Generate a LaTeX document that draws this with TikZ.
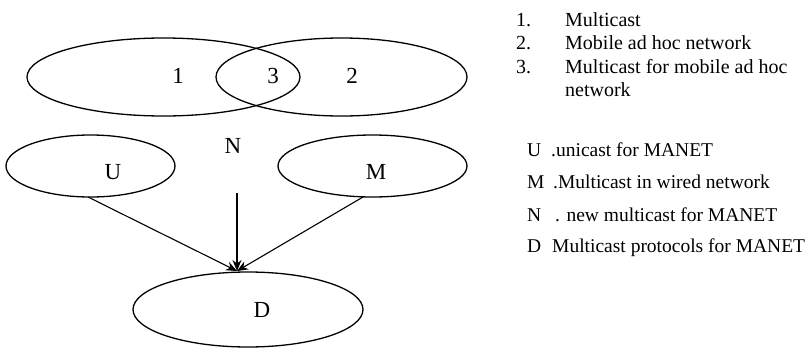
\documentclass[tikz,border=0pt]{standalone}
\usepackage{fontspec}
\setmainfont{Liberation Serif}
\usetikzlibrary{shapes.geometric,arrows.meta}
\begin{document}
\begin{tikzpicture}[x=1pt,y=-1pt,
  oval/.style={draw,ellipse,line width=1.3pt,inner sep=0pt,outer sep=0pt},
  lbl/.style={font=\fontsize{23}{23}\selectfont,inner sep=0pt},
  item/.style={font=\fontsize{20}{20}\selectfont,anchor=base west,inner sep=0pt},
  key/.style={font=\fontsize{19.5}{19.5}\selectfont,anchor=base west,inner sep=0pt},
  arr/.style={line width=1.1pt,-{Stealth[length=11pt,width=9pt]}}]
\useasboundingbox (0,0) rectangle (811,348);
% Venn ellipses
\node[oval,minimum width=273pt,minimum height=78pt] (e1) at (163.5,77) {};
\node[oval,minimum width=251pt,minimum height=78pt] (e2) at (341.5,77) {};
\node[lbl] (l1) at (178,76) {1};
\node[lbl] (l3) at (273,76) {3};
\node[lbl] (l2) at (352,76) {2};
% U, M, D
\node[oval,minimum width=169pt,minimum height=62pt] (u) at (90.5,166) {};
\node[oval,minimum width=189pt,minimum height=62pt] (m) at (372.5,166) {};
\node[oval,minimum width=230pt,minimum height=75pt] (d) at (248,309.5) {};
\node[lbl] (lu) at (113,172) {U};
\node[lbl] (lm) at (376,172) {M};
\node[lbl] (ln) at (233,146) {N};
\node[lbl] (ld) at (262,310) {D};
\coordinate (nstart) at (237,193);
\coordinate (tip) at (237,271);
\coordinate (ustart) at (88,197);
\coordinate (mstart) at (363,197);
\draw[arr] (ustart) -- (tip);
\draw[arr] (nstart) -- (tip);
\draw[arr] (mstart) -- (tip);
% legend top
\node[item] (n1) at (516,26) {1.};
\node[item] (t1) at (565,26) {Multicast};
\node[item] (n2) at (516,49.5) {2.};
\node[item] (t2) at (565,49.5) {Mobile ad hoc network};
\node[item] (n3) at (516,73) {3.};
\node[item] (t3) at (565,73) {Multicast for mobile ad hoc};
\node[item] (t3b) at (565,96) {network};
% legend bottom
\node[key] (ku) at (527,156) {U};
\node[key] (vu) at (551,156) {.unicast for MANET};
\node[key] (km) at (527,188) {M};
\node[key] (vm) at (553,188) {.Multicast in wired network};
\node[key] (kn) at (527,221) {N};
\node[key] (vn) at (555,221) {. new multicast for MANET};
\node[key] (kd) at (527,252) {D};
\node[key] (vd) at (552,252) {Multicast protocols for MANET};
\end{tikzpicture}
\end{document}
